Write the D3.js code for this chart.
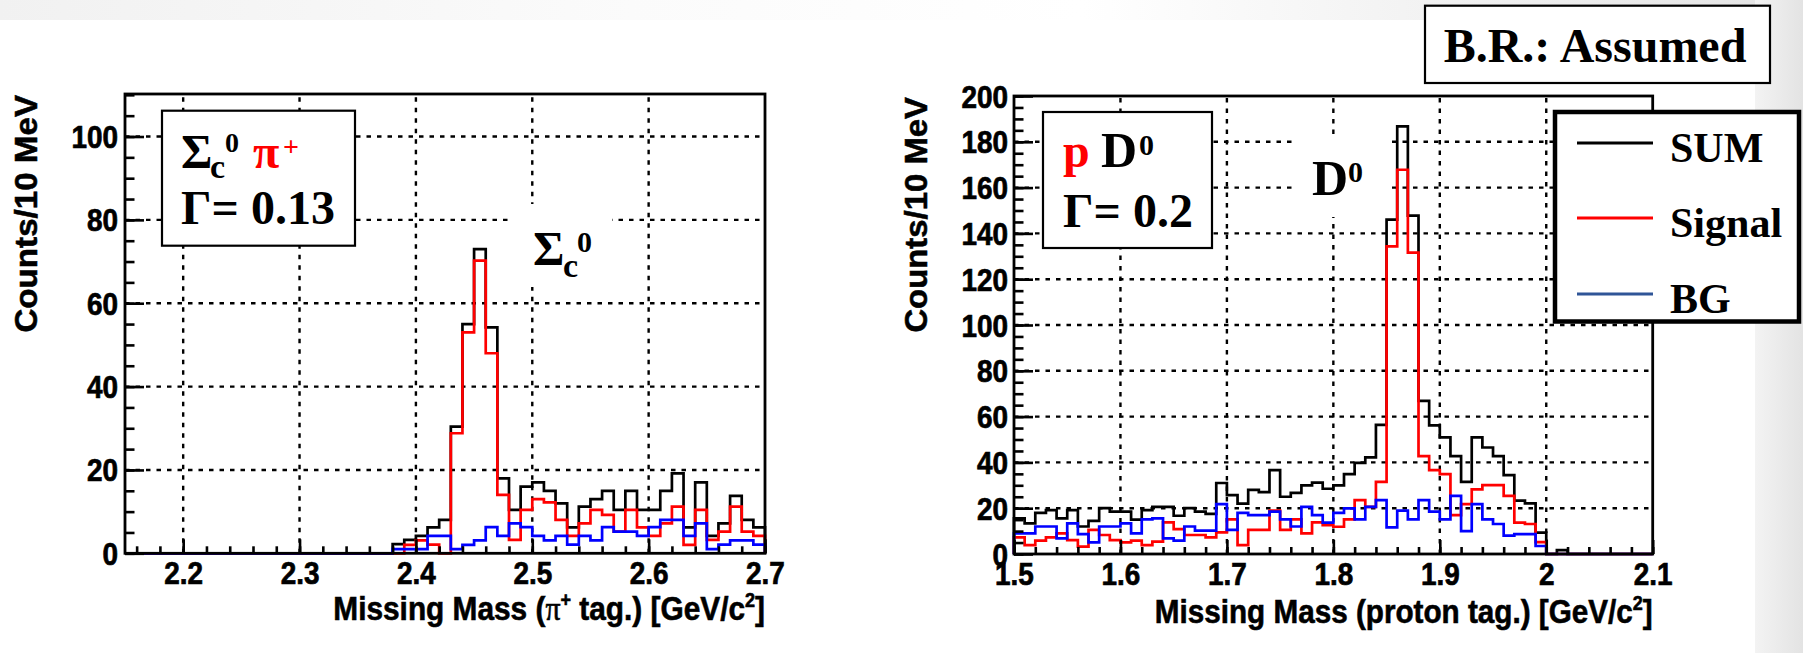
<!DOCTYPE html>
<html>
<head>
<meta charset="utf-8">
<script src="https://cdn.jsdelivr.net/npm/d3@7"></script>
<style>
  body { margin: 0; background: #fff; }
  svg { display: block; }
</style>
</head>
<body>
<svg id="chart" width="1803" height="653"></svg>
<script>
// ---- data (10 MeV bins) ----
// left: Sigma_c0 pi+ , bins start at 2.15 GeV
const leftBinStart = 2.15;
const leftSum = [0,0,0,0,0, 0,0,0,0,0, 0,0,0,0,0, 0,0,0,0,0, 0,0,0,
  2.2, 3.2, 4.2, 6.2, 8, 30.4, 55, 73, 54.2, 18, 10.4, 16, 17, 15, 12, 6.2,
  11.2, 13, 15, 10.4, 15, 10.4, 10.4, 15, 19.2, 6.2, 17, 4.2, 7.2, 13.8, 8, 6.2];
const leftSignal = [0,0,0,0,0, 0,0,0,0,0, 0,0,0,0,0, 0,0,0,0,0, 0,0,0,
  0, 2, 3.1, 2.1, 0, 28.8, 53, 70.2, 48, 14, 3.2, 10.4, 13, 12.2, 8, 4.2,
  7.2, 10.4, 9.2, 5.2, 10.4, 6.2, 4.2, 7.2, 11.2, 2, 10.4, 3.2, 5.2, 11.2, 5.2, 4.2];
const leftBG = [0,0,0,0,0, 0,0,0,0,0, 0,0,0,0,0, 0,0,0,0,0, 0,0,0,
  1, 1, 1, 4.2, 4.2, 1, 2, 3.1, 6.3, 4.2, 7.2, 6.3, 4.2, 3.1, 4.2, 2.1,
  4.2, 3.1, 6.3, 5.2, 5.2, 4.2, 6.3, 8, 8, 4.2, 7.2, 1, 2.1, 3.1, 3.1, 2.1];
const leftXTicks = [2.2, 2.3, 2.4, 2.5, 2.6, 2.7];
const leftYTicks = [0, 20, 40, 60, 80, 100];

// right: p D0 , bins start at 1.50 GeV
const rightBinStart = 1.5;
const rightSum = [15.6, 13.4, 18, 19.2, 15.6, 19.2, 12, 14.5, 20, 18.5,
  18.5, 15, 19.2, 20.6, 20.6, 16.7, 20, 18.5, 17.5, 31,
  25.7, 22, 28, 27, 36.6, 25, 26.7, 30, 31.2, 28.5,
  30, 34.9, 39.8, 42.2, 56.4, 146, 186.7, 147.8, 66.9, 56.2,
  50.9, 42.7, 31.5, 50.9, 46.5, 42.7, 34.4, 23.3, 22.1, 9.3,
  0, 1.7, 0, 0, 0, 0, 0, 0, 0, 0];
const rightSignal = [7.3, 3.9, 5.8, 7.3, 9, 6.1, 3.2, 10.5, 8.3, 6.1,
  5.1, 5.8, 3.9, 5.4, 13.8, 10.9, 8.3, 8.3, 7.3, 9.4,
  15.1, 3.9, 10.5, 10.5, 18.9, 10.5, 15.1, 9, 13.8, 12.6,
  11.9, 15.1, 23.5, 20.6, 31.5, 134.3, 167.8, 131.6, 42.7, 36.6,
  34.9, 17, 21.8, 28.2, 30.1, 30.1, 25.4, 13.7, 13.1, 5.2,
  0, 0, 0, 0, 0, 0, 0, 0, 0, 0];
const rightBG = [9, 9, 12, 12, 6.8, 13.4, 8.7, 5.1, 12, 12,
  13.4, 9, 15.1, 15.6, 6.8, 5.8, 12, 10.2, 10.2, 21.8,
  10.5, 18, 17, 17, 18.5, 15.1, 12, 20.6, 17, 13.7,
  18, 19.9, 15.1, 20.6, 23.5, 11.6, 18.9, 15.1, 23.5, 18.5,
  15.1, 25.4, 10, 21.8, 15.1, 13.1, 8, 8.7, 8.7, 3.5,
  0, 0, 0, 0, 0, 0, 0, 0, 0, 0];
const rightXTicks = [1.5, 1.6, 1.7, 1.8, 1.9, 2.0, 2.1];
const rightYTicks = [0, 20, 40, 60, 80, 100, 120, 140, 160, 180, 200];

const legendNames = ["SUM", "Signal", "BG"];
const legendColors = ["#000000", "#ff0000", "#2f5597"];
const histColors = ["#000000", "#ff0000", "#0000ff"];

const SANS = "'Liberation Sans', Arial, sans-serif";
const SERIF = "'Liberation Serif', 'Times New Roman', serif";

const svg = d3.select("#chart");
const defs = svg.append("defs");

// slide background: grey bands on top and right
const gTop = defs.append("linearGradient").attr("id", "topband");
gTop.append("stop").attr("offset", "0").attr("stop-color", "#f1f1f1");
gTop.append("stop").attr("offset", "0.35").attr("stop-color", "#fbfbfb");
gTop.append("stop").attr("offset", "0.6").attr("stop-color", "#ffffff");
gTop.append("stop").attr("offset", "1").attr("stop-color", "#e4e4e4");
const gRight = defs.append("linearGradient").attr("id", "rightband");
gRight.append("stop").attr("offset", "0").attr("stop-color", "#f3f3f3");
gRight.append("stop").attr("offset", "1").attr("stop-color", "#e3e3e3");

svg.append("rect").attr("x", 0).attr("y", 0).attr("width", 1803).attr("height", 653).attr("fill", "#fff");
svg.append("rect").attr("x", 0).attr("y", 0).attr("width", 1803).attr("height", 20).attr("fill", "url(#topband)");
svg.append("rect").attr("x", 1755).attr("y", 0).attr("width", 48).attr("height", 653).attr("fill", "url(#rightband)");

function fmt(v) { return String(+v.toFixed(1)); }

function drawPanel(cfg) {
  const x = d3.scaleLinear().domain(cfg.xDomain).range([cfg.left, cfg.right]);
  const y = d3.scaleLinear().domain(cfg.yDomain).range([cfg.bottom, cfg.top]);
  const g = svg.append("g");

  // dotted grid
  const grid = g.append("g").attr("stroke", "#000").attr("stroke-width", 2.4)
    .attr("stroke-dasharray", "4.5,6");
  grid.selectAll(".vg").data(cfg.xTicks.filter(v => x(v) > cfg.left + 2 && x(v) < cfg.right - 2))
    .join("line").attr("x1", d => x(d)).attr("x2", d => x(d))
    .attr("y1", cfg.bottom).attr("y2", cfg.top);
  grid.selectAll(".hg").data(cfg.yTicks.filter(v => y(v) < cfg.bottom - 2 && y(v) > cfg.top + 2))
    .join("line").attr("y1", d => y(d)).attr("y2", d => y(d))
    .attr("x1", cfg.left).attr("x2", cfg.right);

  // histograms as step outlines
  const line = d3.line().x(d => x(d.x)).y(d => y(d.v)).curve(d3.curveStepAfter);
  cfg.series.forEach((vals, k) => {
    const pts = [{ x: cfg.binStart, v: 0 }];
    vals.forEach((v, i) => pts.push({ x: cfg.binStart + i * 0.01, v: v }));
    const end = cfg.binStart + vals.length * 0.01;
    pts.push({ x: end, v: vals[vals.length - 1] });
    pts.push({ x: end, v: 0 });
    g.append("path").attr("d", line(pts)).attr("fill", "none")
      .attr("stroke", histColors[k]).attr("stroke-width", 2.7);
  });

  // ticks (inside frame, ROOT style)
  const bottomAx = g.append("g").attr("transform", `translate(0,${cfg.bottom})`);
  bottomAx.append("g").call(d3.axisBottom(x).tickValues(x.ticks(30)).tickSizeInner(-7).tickSizeOuter(0).tickFormat(""));
  bottomAx.append("g").call(d3.axisBottom(x).tickValues(cfg.xTicks).tickSizeInner(-14).tickSizeOuter(0).tickFormat(fmt))
    .call(a => a.selectAll("text").attr("y", 31).attr("dy", null)
      .attr("transform", "scale(0.9,1)"));
  const leftAx = g.append("g").attr("transform", `translate(${cfg.left},0)`);
  leftAx.append("g").call(d3.axisLeft(y).tickValues(y.ticks(cfg.minorY)).tickSizeInner(-9.5).tickSizeOuter(0).tickFormat(""));
  leftAx.append("g").call(d3.axisLeft(y).tickValues(cfg.yTicks).tickSizeInner(-19).tickSizeOuter(0).tickFormat(fmt))
    .call(a => a.selectAll("text").attr("x", cfg.yLabelGap / 0.9).attr("dy", 11)
      .attr("transform", "scale(0.9,1)"));
  g.selectAll(".domain").remove();
  g.selectAll(".tick line").attr("stroke", "#000").attr("stroke-width", 2.6);
  g.selectAll(".tick text").attr("fill", "#000").attr("stroke", "#000").attr("stroke-width", 0.7)
    .style("font-family", SANS).style("font-weight", "bold").style("font-size", "31px");

  // frame
  g.append("rect").attr("x", cfg.left).attr("y", cfg.top)
    .attr("width", cfg.right - cfg.left).attr("height", cfg.bottom - cfg.top)
    .attr("fill", "none").attr("stroke", "#000").attr("stroke-width", 2.8);

  // axis titles, stretched to the widths in the picture
  const xt = g.append("g").attr("transform", `translate(${cfg.right},${cfg.xTitleY})`)
    .append("text").attr("text-anchor", "end").attr("stroke", "#000").attr("stroke-width", 0.6)
    .style("font-family", SANS).style("font-weight", "bold").style("font-size", "33px");
  cfg.xTitle(xt);
  const xw = xt.node().getBBox().width;
  xt.attr("transform", `scale(${cfg.xTitleW / xw},1)`);

  const yt = g.append("g").attr("transform", `translate(${cfg.yTitleX},${cfg.top + 1}) rotate(-90)`)
    .append("text").attr("text-anchor", "end").attr("stroke", "#000").attr("stroke-width", 0.6)
    .style("font-family", SANS).style("font-weight", "bold").style("font-size", "34px").text("Counts/10 MeV");
  const yw = yt.node().getBBox().width;
  yt.attr("transform", `scale(${cfg.yTitleW / yw},0.9)`);
}

drawPanel({
  left: 125, right: 765, top: 94, bottom: 553.3,
  xDomain: [2.15, 2.7], yDomain: [0, 110.2], minorY: 22,
  xTicks: leftXTicks, yTicks: leftYTicks,
  binStart: leftBinStart, series: [leftSum, leftSignal, leftBG],
  yLabelGap: -7, xTitleY: 620, xTitleW: 432, yTitleX: 37, yTitleW: 238,
  xTitle: t => {
    t.append("tspan").text("Missing Mass (");
    t.append("tspan").style("font-family", SERIF).style("font-weight", "normal").text("π");
    t.append("tspan").attr("dy", -13).style("font-size", "20px").text("+");
    t.append("tspan").attr("dy", 13).text(" tag.) [GeV/c");
    t.append("tspan").attr("dy", -13).style("font-size", "20px").text("2");
    t.append("tspan").attr("dy", 13).text("]");
  }
});

drawPanel({
  left: 1014, right: 1652.7, top: 96, bottom: 554,
  xDomain: [1.5, 2.1], yDomain: [0, 200], minorY: 40,
  xTicks: rightXTicks, yTicks: rightYTicks,
  binStart: rightBinStart, series: [rightSum, rightSignal, rightBG],
  yLabelGap: -6, xTitleY: 623, xTitleW: 498, yTitleX: 927, yTitleW: 236,
  xTitle: t => {
    t.append("tspan").text("Missing Mass (proton tag.) [GeV/c");
    t.append("tspan").attr("dy", -13).style("font-size", "20px").text("2");
    t.append("tspan").attr("dy", 13).text("]");
  }
});

// ---- overlay annotations (slide text boxes) ----
function label(x, y, str, size, color) {
  return svg.append("text").attr("x", x).attr("y", y).text(str)
    .style("font-family", SERIF).style("font-weight", "bold")
    .style("font-size", size + "px").attr("fill", color || "#000");
}
function box(x, y, w, h, sw) {
  return svg.append("rect").attr("x", x).attr("y", y).attr("width", w).attr("height", h)
    .attr("fill", "#fff").attr("stroke", "#000").attr("stroke-width", sw);
}

// left box: Sigma_c0 pi+ , Gamma = 0.13
box(162, 110.7, 193, 135, 2.2);
label(181, 168, "Σ", 48);
label(210, 178, "c", 34);
label(225, 151.5, "0", 28);
label(253, 168, "π", 48, "#ff0000");
label(283, 156, "+", 28, "#ff0000");
label(181, 224, "Γ= 0.13", 48);

// Sigma_c0 peak label
svg.append("rect").attr("x", 512).attr("y", 204).attr("width", 100).attr("height", 83).attr("fill", "#fff");
label(533, 265, "Σ", 48);
label(563, 277, "c", 34);
label(577, 252, "0", 30);

// right box: p D0 , Gamma = 0.2
box(1043, 112, 169, 136, 2.2);
label(1063, 167, "p", 48, "#ff0000");
label(1101, 167, "D", 50);
label(1139, 155, "0", 30);
label(1063, 227, "Γ= 0.2", 48);

// D0 peak label
svg.append("rect").attr("x", 1293).attr("y", 138).attr("width", 94).attr("height", 79).attr("fill", "#fff");
label(1312, 195, "D", 50);
label(1348, 182, "0", 30);

// B.R. box
box(1425, 5.7, 345, 77.3, 2.2);
label(1595, 62, "B.R.: Assumed", 48).attr("text-anchor", "middle");

// legend
box(1555, 112, 244, 209.5, 4.5);
const legendY = [143, 218, 294];
const leg = svg.append("g");
leg.selectAll("line").data(legendNames).join("line")
  .attr("x1", 1577).attr("x2", 1653)
  .attr("y1", (d, i) => legendY[i]).attr("y2", (d, i) => legendY[i])
  .attr("stroke", (d, i) => legendColors[i]).attr("stroke-width", 3);
leg.selectAll("text").data(legendNames).join("text")
  .attr("x", 1670).attr("y", (d, i) => legendY[i] + 19).text(d => d)
  .style("font-family", SERIF).style("font-weight", "bold").style("font-size", "42px");
</script>
</body>
</html>
